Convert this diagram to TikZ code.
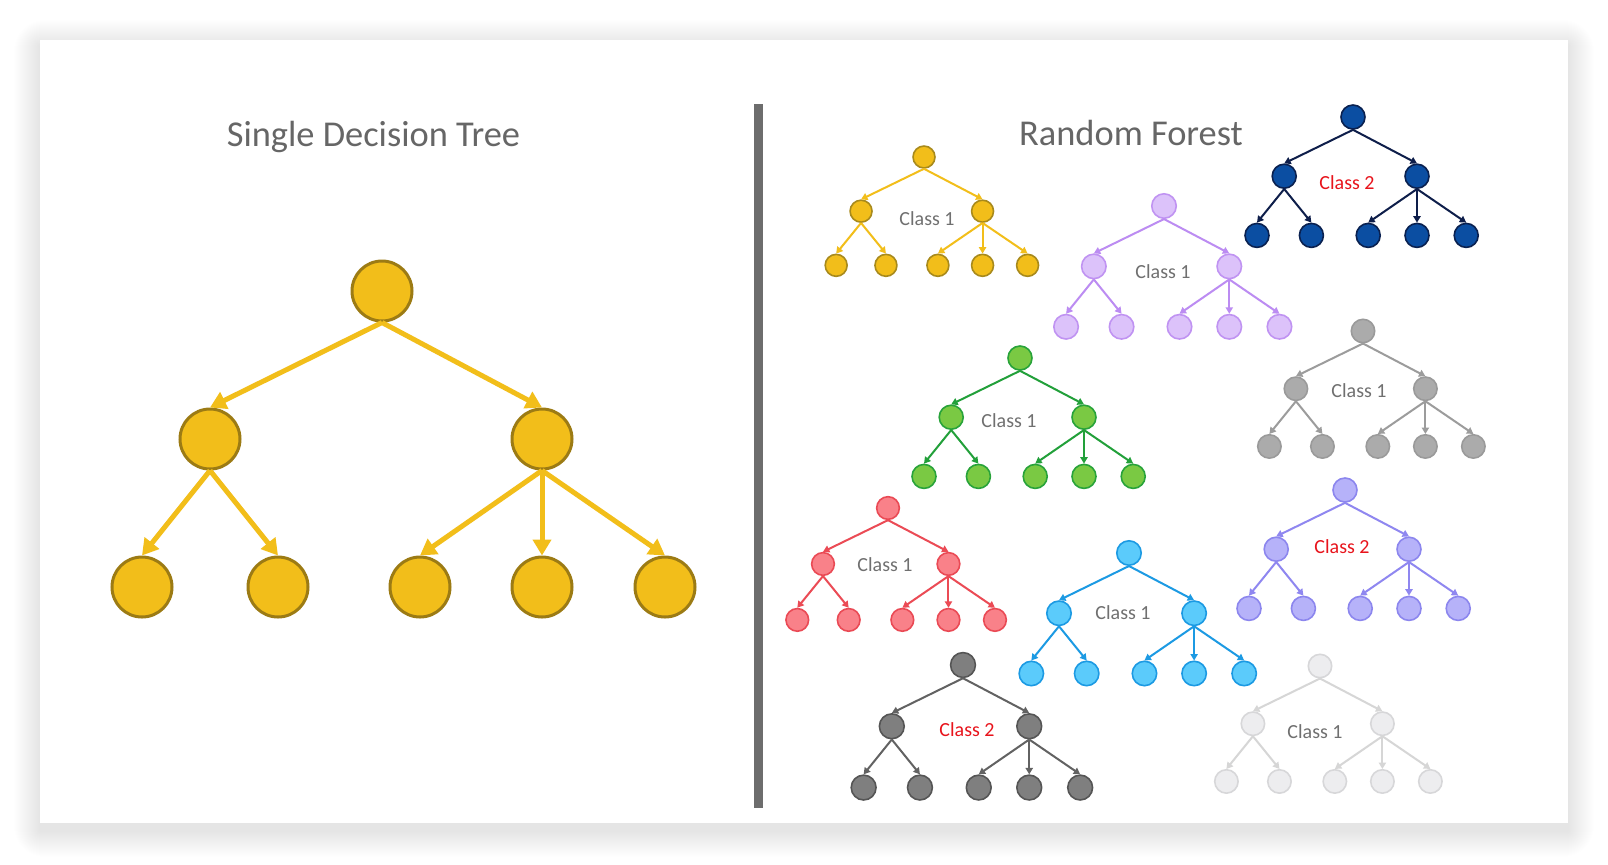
\documentclass[tikz,border=0pt]{standalone}
\usepackage{fontspec}
\setmainfont{Carlito}
\usetikzlibrary{arrows.meta}

\definecolor{titlegray}{HTML}{666666}
\definecolor{clsgray}{HTML}{707070}
\definecolor{clsred}{HTML}{E8141C}
\definecolor{divgray}{HTML}{6D6D6D}
\definecolor{shadowc}{HTML}{1E2436}
\definecolor{yfill}{HTML}{F2BE1A}
\definecolor{ystrokeB}{HTML}{9C7B14}
\definecolor{ystroke}{HTML}{A88A1C}
\definecolor{nfill}{HTML}{0B4EA2}
\definecolor{nstroke}{HTML}{0A2150}
\definecolor{narrow}{HTML}{0E1E4A}
\definecolor{lfill}{HTML}{DCC2FA}
\definecolor{lstroke}{HTML}{C093F2}
\definecolor{larrow}{HTML}{BC8CF2}
\definecolor{gfill}{HTML}{ABABAB}
\definecolor{gstroke}{HTML}{9A9A9A}
\definecolor{garrow}{HTML}{9C9C9C}
\definecolor{grfill}{HTML}{7AC943}
\definecolor{grstroke}{HTML}{28A33A}
\definecolor{grarrow}{HTML}{22A03A}
\definecolor{rfill}{HTML}{F98189}
\definecolor{rstroke}{HTML}{EA4A55}
\definecolor{rarrow}{HTML}{EB4B55}
\definecolor{sfill}{HTML}{5BCBFB}
\definecolor{sstroke}{HTML}{1C9AE3}
\definecolor{sarrow}{HTML}{1C9AE3}
\definecolor{dfill}{HTML}{7F7F7F}
\definecolor{dstroke}{HTML}{555555}
\definecolor{darrow}{HTML}{626262}
\definecolor{lgfill}{HTML}{EDEDEF}
\definecolor{lgstroke}{HTML}{D7D7D9}
\definecolor{lgarrow}{HTML}{D6D6D6}
\definecolor{pfill}{HTML}{B6B2F9}
\definecolor{pstroke}{HTML}{8C86EE}
\definecolor{parrow}{HTML}{8F87F0}

% \ftree{id}{x}{y}{scale}{fill}{stroke}{arrow}{circle lw}{arrow lw}
\newcommand{\ftree}[9]{%
  \pgfmathsetmacro\fdiam{30*#4}%
  \tikzset{tnode/.style={circle, inner sep=0pt, minimum size=\fdiam pt, fill=#5, draw=#6, line width=#8pt},
           tlink/.style={draw=#7, line width=#9pt, -{Triangle[length=0pt 3.2, width=0pt 3.6]}}}%
  \node[tnode] (#1-r) at (#2,#3) {};
  \node[tnode] (#1-a) at ({#2-172*#4},{#3+148*#4}) {};
  \node[tnode] (#1-b) at ({#2+160*#4},{#3+148*#4}) {};
  \node[tnode] (#1-1) at ({#2-240*#4},{#3+296*#4}) {};
  \node[tnode] (#1-2) at ({#2-104*#4},{#3+296*#4}) {};
  \node[tnode] (#1-3) at ({#2+38*#4},{#3+296*#4}) {};
  \node[tnode] (#1-4) at ({#2+160*#4},{#3+296*#4}) {};
  \node[tnode] (#1-5) at ({#2+283*#4},{#3+296*#4}) {};
  \draw[tlink] (#1-r.south) -- (#1-a.north);
  \draw[tlink] (#1-r.south) -- (#1-b.north);
  \draw[tlink] (#1-a.south) -- (#1-1.north);
  \draw[tlink] (#1-a.south) -- (#1-2.north);
  \draw[tlink] (#1-b.south) -- (#1-3.north);
  \draw[tlink] (#1-b.south) -- (#1-4.north);
  \draw[tlink] (#1-b.south) -- (#1-5.north);
}

\tikzset{
  title/.style={font=\fontsize{18.2}{22}\selectfont, text=titlegray, inner sep=0pt, anchor=base},
  cls/.style={font=\fontsize{10}{12}\selectfont, text=clsgray, inner sep=0pt},
  clsr/.style={cls, text=clsred},
  shadowstep/.style={fill=shadowc, fill opacity=0.0042, draw=none},
}

\begin{document}
\begin{tikzpicture}[x=0.5pt, y=-0.5pt]
\useasboundingbox (0,0) rectangle (1608,864);
\fill[white] (0,0) rectangle (1608,864);
% soft shadow round the card
\foreach \i in {1,...,26}{
  \path[shadowstep, rounded corners={\i*0.6pt}] ({40-\i},{46-\i}) rectangle ({1568+\i},{831+\i});
}
\fill[white] (40,40) rectangle (1568,823);

\node[title] (t1) at (373.5,146) {Single Decision Tree};
\node[title] (t2) at (1131,145) {Random Forest};

\coordinate (dtop) at (758,104);
\coordinate (dbot) at (758,808);
\draw[divgray, line width=4.5pt] (dtop) -- (dbot);

% single tree
\ftree{big}{382}{291}{1}{yfill}{ystrokeB}{yfill}{1.5}{2.5}

% forest
\ftree{ye}{924}{157}{0.366}{yfill}{ystroke}{yfill}{0.8}{1}
\node[cls] (ye-lab) at (927,219) {Class 1};

\ftree{lv}{1164}{206}{0.408}{lfill}{lstroke}{larrow}{0.8}{1}
\node[cls] (lv-lab) at (1163,272) {Class 1};

\ftree{nv}{1353}{117}{0.40}{nfill}{nstroke}{narrow}{0.8}{1}
\node[clsr] (nv-lab) at (1347,183) {Class 2};

\ftree{gy}{1363}{331}{0.39}{gfill}{gstroke}{garrow}{0.8}{1}
\node[cls] (gy-lab) at (1359,391) {Class 1};

\ftree{gr}{1020}{358}{0.40}{grfill}{grstroke}{grarrow}{0.8}{1}
\node[cls] (gr-lab) at (1009,421) {Class 1};

\ftree{rd}{888}{508}{0.378}{rfill}{rstroke}{rarrow}{0.8}{1}
\node[cls] (rd-lab) at (885,565) {Class 1};

\ftree{sk}{1129}{553}{0.407}{sfill}{sstroke}{sarrow}{0.8}{1}
\node[cls] (sk-lab) at (1123,613) {Class 1};

\ftree{dg}{963}{665}{0.414}{dfill}{dstroke}{darrow}{0.8}{1}
\node[clsr] (dg-lab) at (967,730) {Class 2};

\ftree{lg}{1320}{666}{0.39}{lgfill}{lgstroke}{lgarrow}{0.8}{1}
\node[cls] (lg-lab) at (1315,732) {Class 1};

\ftree{pw}{1345}{490}{0.40}{pfill}{pstroke}{parrow}{0.8}{1}
\node[clsr] (pw-lab) at (1342,547) {Class 2};
\end{tikzpicture}
\end{document}
